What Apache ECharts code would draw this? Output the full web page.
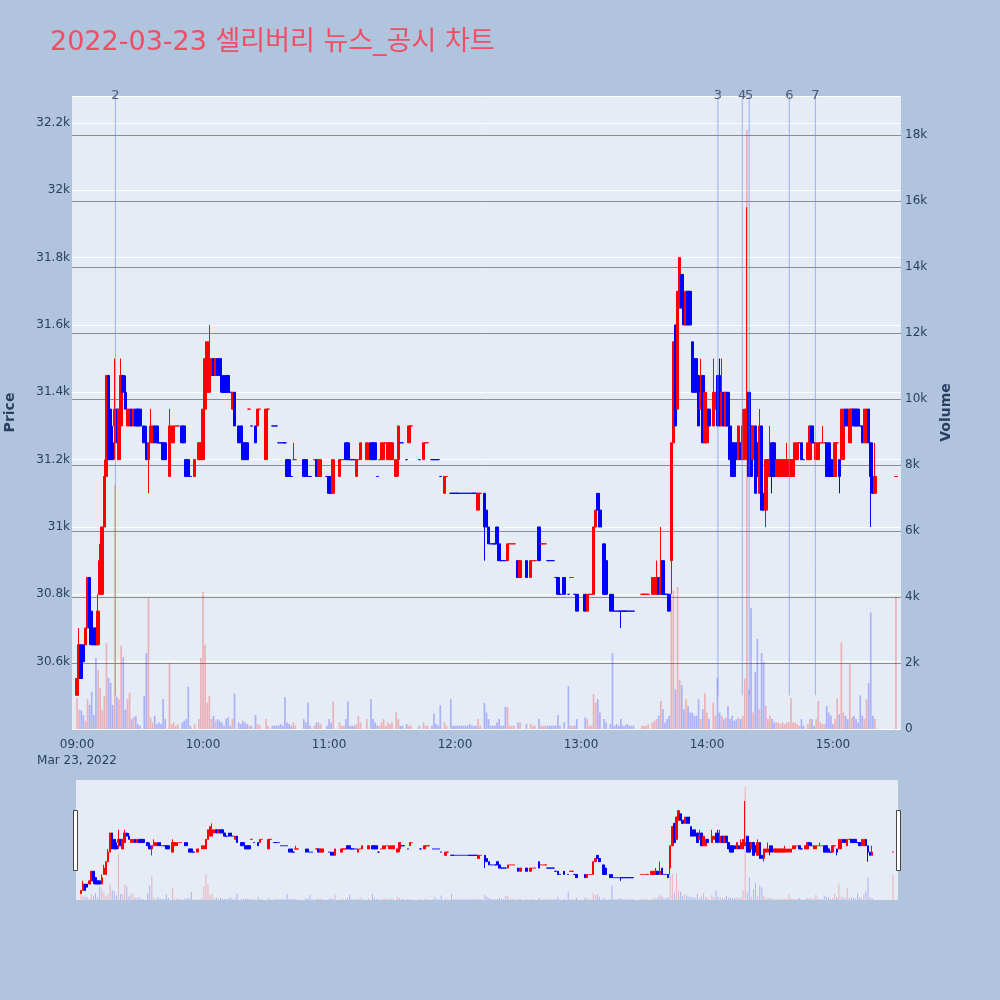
<!DOCTYPE html>
<html>
<head>
<meta charset="utf-8">
<script src="https://cdn.jsdelivr.net/npm/echarts@6/dist/echarts.min.js"></script>
<style>html,body{margin:0;padding:0;background:#b0c4de;}#c{width:1000px;height:1000px;}</style>
</head>
<body>
<div id="c"></div>
<script>
// rows: [minute from 09:00, open, close, low, high, volume]
const h09 = [
[0,30500,30550,30500,30550,940],[1,30550,30650,30550,30700,580],[2,30650,30550,30550,30650,570],
[3,30650,30600,30600,30650,420],[4,30650,30700,30650,30700,250],[5,30700,30850,30700,30850,900],
[6,30850,30700,30650,30850,730],[7,30750,30650,30650,30750,1130],[8,30700,30650,30650,30700,420],
[9,30700,30650,30650,30700,2150],[10,30650,30750,30650,30800,1790],[11,30800,30900,30800,30950,1240],
[12,30800,31000,30800,31000,580],[13,31000,31150,31000,31200,1000],[14,31150,31450,31150,31450,2600],
[15,31450,31200,31200,31450,1550],[16,31350,31200,31200,31350,1400],[17,31250,31200,31200,31300,730],
[18,31300,31350,31200,31500,7400],[19,31350,31250,31250,31350,980],[20,31200,31350,31200,31350,900],
[21,31300,31450,31300,31500,2520],[22,31450,31400,31400,31450,2180],[23,31400,31350,31350,31450,580],
[24,31300,31350,31300,31350,900],[25,31300,31350,31300,31350,1100],[26,31350,31300,31300,31350,300],
[27,31300,31350,31300,31350,350],[28,31350,31300,31300,31350,400],[29,31350,31300,31300,31350,150],
[30,31350,31300,31300,31350,100],[32,31300,31250,31250,31300,1000],[33,31250,31200,31200,31300,2300],
[34,31200,31250,31100,31250,3960],[35,31250,31300,31250,31350,350],[36,31250,31300,31250,31300,200],
[37,31300,31250,31250,31300,400],[38,31300,31250,31250,31300,150],[39,31250,31250,31250,31250,200],
[40,31250,31250,31250,31250,150],[41,31250,31200,31200,31250,900],[42,31250,31200,31200,31250,300],
[44,31150,31300,31150,31350,2000],[45,31250,31300,31250,31300,150],[46,31250,31300,31250,31300,200],
[47,31300,31300,31300,31300,100],[48,31300,31300,31300,31300,150],[50,31300,31250,31250,31300,200],
[51,31300,31250,31250,31300,250],[52,31200,31150,31150,31200,300],[53,31200,31150,31150,31200,1280],
[54,31150,31150,31150,31150,100],[56,31150,31200,31150,31200,150],[58,31200,31250,31200,31250,300],
[59,31200,31250,31200,31250,2150]
];
const h10 = [
[60,31200,31350,31200,31350,4160],[61,31350,31500,31350,31500,2550],[62,31400,31550,31400,31550,800],
[63,31400,31500,31400,31600,1000],[64,31450,31500,31450,31500,300],[65,31500,31450,31450,31500,400],
[66,31450,31500,31450,31500,250],[67,31500,31450,31450,31500,300],[68,31500,31450,31450,31500,250],
[69,31450,31400,31400,31450,200],[70,31400,31400,31400,31400,100],[71,31450,31400,31400,31450,300],
[72,31450,31400,31400,31450,350],[73,31400,31400,31400,31400,100],[74,31350,31400,31350,31400,300],
[75,31400,31300,31300,31400,1070],[77,31300,31250,31250,31300,200],[78,31300,31250,31250,31300,150],
[79,31250,31200,31200,31250,250],[80,31250,31200,31200,31250,200],[81,31250,31200,31200,31250,150],
[82,31350,31350,31350,31350,100],[83,31300,31300,31300,31300,100],[85,31300,31250,31250,31300,420],
[86,31300,31350,31300,31350,150],[87,31350,31350,31350,31350,100],[90,31200,31350,31200,31350,300],
[91,31350,31350,31350,31350,100],[93,31300,31300,31300,31300,100],[94,31300,31300,31300,31300,100],
[95,31300,31300,31300,31300,100],[96,31250,31250,31250,31250,100],[97,31250,31250,31250,31250,150],
[98,31250,31250,31250,31250,100],[99,31250,31250,31250,31250,960],[100,31200,31150,31150,31200,200],
[101,31200,31150,31150,31200,150],[102,31150,31150,31150,31150,100],[103,31200,31200,31200,31250,200],
[104,31200,31200,31200,31200,100],[108,31200,31150,31150,31200,300],[109,31200,31150,31150,31200,200],
[110,31150,31150,31150,31150,800],[111,31150,31150,31150,31150,100],[113,31200,31200,31200,31200,100],
[114,31200,31150,31150,31200,200],[115,31150,31200,31150,31200,200],[116,31150,31200,31150,31200,150],
[119,31150,31150,31150,31150,100]
];
const h11 = [
[120,31150,31100,31100,31150,300],[121,31150,31100,31100,31150,200],[122,31100,31200,31100,31200,830],
[125,31150,31200,31150,31200,200],[126,31200,31200,31200,31200,100],[127,31200,31200,31200,31200,100],
[128,31250,31200,31200,31250,300],[129,31250,31200,31200,31250,830],[130,31200,31200,31200,31200,100],
[131,31200,31200,31200,31200,100],[132,31200,31200,31200,31200,100],[133,31150,31200,31150,31200,150],
[134,31200,31200,31200,31200,400],[135,31200,31250,31200,31250,200],[138,31200,31250,31200,31250,300],
[140,31250,31200,31200,31250,900],[141,31250,31200,31200,31250,300],[142,31250,31200,31200,31250,200],
[143,31150,31150,31150,31150,100],[144,31200,31200,31200,31200,100],[145,31200,31250,31200,31250,200],
[146,31200,31250,31200,31250,300],[147,31250,31250,31250,31250,100],[148,31200,31250,31200,31250,200],
[149,31200,31250,31200,31250,150],[150,31200,31250,31200,31250,200],[152,31150,31200,31150,31200,510],
[153,31200,31300,31150,31300,300],[154,31250,31250,31250,31250,100],[155,31250,31250,31250,31250,100],
[157,31200,31200,31200,31200,150],[158,31250,31300,31250,31300,100],[159,31300,31300,31300,31300,100],
[163,31200,31200,31200,31200,100],[165,31200,31250,31200,31250,200],[166,31250,31250,31250,31250,100],
[167,31250,31250,31250,31250,100],[169,31200,31200,31200,31200,100],[170,31200,31200,31200,31200,470],
[171,31200,31200,31200,31200,150],[172,31200,31200,31200,31200,100],[173,31150,31150,31150,31150,720],
[175,31100,31150,31100,31150,200],[176,31150,31150,31150,31150,100],[178,31100,31100,31100,31100,900],
[179,31100,31100,31100,31100,100]
];
const h12 = [
[180,31100,31100,31100,31100,100],[181,31100,31100,31100,31100,100],[182,31100,31100,31100,31100,100],
[183,31100,31100,31100,31100,100],[184,31100,31100,31100,31100,100],[185,31100,31100,31100,31100,100],
[186,31100,31100,31100,31100,100],[187,31100,31100,31100,31100,150],[188,31100,31100,31100,31100,100],
[189,31100,31100,31100,31100,100],[190,31100,31100,31100,31100,100],[191,31050,31100,31050,31100,300],
[192,31100,31100,31100,31100,100],[194,31100,31000,30900,31100,790],[195,31050,31000,31000,31050,500],
[196,31000,30950,30950,31000,300],[197,30950,30950,30950,30950,100],[198,30950,30950,30950,30950,100],
[199,30950,30950,30950,30950,100],[200,31000,30950,30950,31000,200],[201,30950,30900,30900,30950,300],
[202,30900,30900,30900,30900,100],[203,30900,30900,30900,30900,100],[204,30900,30900,30900,30900,670],
[205,30900,30950,30900,30950,670],[206,30950,30950,30950,30950,100],[207,30950,30950,30950,30950,100],
[208,30950,30950,30950,30950,100],[210,30900,30850,30850,30900,200],[211,30850,30900,30850,30900,200],
[214,30900,30850,30850,30900,150],[216,30850,30900,30850,30900,150],[217,30900,30900,30900,30900,100],
[218,30900,30900,30900,30900,100],[220,31000,30900,30900,31000,300],[221,30950,30950,30950,30950,100],
[222,30950,30950,30950,30950,100],[223,30950,30950,30950,30950,100],[224,30900,30900,30900,30900,100],
[225,30900,30900,30900,30900,100],[226,30900,30900,30900,30900,100],[227,30900,30900,30900,30900,100],
[228,30850,30850,30850,30850,100],[229,30850,30800,30800,30850,420],[230,30800,30800,30800,30800,100],
[232,30850,30800,30800,30850,200],[234,30800,30800,30800,30800,1300],[235,30850,30850,30850,30850,100],
[236,30850,30850,30850,30850,100],[237,30800,30800,30800,30800,100],[238,30800,30750,30750,30800,300]
];
const h13 = [
[242,30800,30750,30750,30800,350],[243,30750,30800,30750,30800,300],[244,30800,30800,30800,30800,100],
[245,30800,30800,30800,30800,100],[246,30800,31000,30800,31000,1060],[247,31000,31050,31000,31050,800],
[248,31100,31050,31050,31100,900],[249,31050,31000,31000,31050,500],[251,30950,30800,30800,30950,300],
[252,30900,30800,30800,30900,200],[254,30800,30750,30750,30800,150],[255,30800,30750,30750,30800,2300],
[256,30750,30750,30750,30750,100],[257,30750,30750,30750,30750,150],[258,30750,30750,30750,30750,100],
[259,30750,30750,30700,30750,300],[260,30750,30750,30750,30750,100],[261,30750,30750,30750,30750,100],
[262,30750,30750,30750,30750,150],[263,30750,30750,30750,30750,100],[264,30750,30750,30750,30750,100],
[265,30750,30750,30750,30750,100],[269,30800,30800,30800,30800,100],[270,30800,30800,30800,30800,100],
[271,30800,30800,30800,30800,100],[272,30800,30800,30800,30800,150],[274,30800,30850,30800,30850,200],
[275,30800,30850,30800,30850,250],[276,30800,30850,30800,30900,300],[277,30850,30800,30800,30850,400],
[278,30800,30850,30800,31000,850],[279,30900,30800,30800,30900,600],[280,30800,30800,30800,30800,200],
[281,30800,30800,30800,30800,300],[282,30800,30750,30750,30800,400],[283,30900,31250,30800,31250,3900],
[284,31250,31550,31250,31550,4200],[285,31600,31300,31300,31600,1200],[286,31350,31700,31350,31700,4300],
[287,31650,31800,31650,31800,1500],[288,31750,31650,31650,31750,1330],[289,31650,31600,31600,31650,600],
[290,31600,31700,31600,31700,900],[291,31700,31600,31600,31700,700],[292,31700,31600,31600,31700,500],
[293,31550,31400,31400,31550,500],[294,31500,31400,31400,31500,400],[295,31500,31400,31400,31500,400],
[296,31450,31300,31300,31450,900],[297,31350,31400,31350,31500,300],[298,31450,31250,31250,31450,600],
[299,31250,31400,31250,31400,1080]
];
const h14 = [
[300,31250,31350,31250,31350,500],[301,31350,31300,31300,31350,300],[303,31300,31400,31300,31500,800],
[304,31350,31400,31350,31400,400],[305,31450,31300,31300,31450,1550],[306,31450,31300,31300,31500,500],
[307,31300,31400,31300,31500,400],[308,31400,31300,31300,31400,300],[309,31300,31400,31300,31400,350],
[310,31400,31300,31300,31400,700],[311,31300,31200,31200,31300,300],[312,31250,31150,31150,31250,400],
[313,31250,31150,31150,31250,250],[314,31250,31200,31200,31250,300],[315,31200,31300,31200,31300,350],
[316,31250,31200,31200,31250,300],[317,31200,31300,31200,31350,400],[318,31200,31350,31200,31350,1520],
[319,31250,31300,31250,31950,18150],[320,31400,31150,31150,31400,1200],[321,31300,31150,31150,31300,3660],
[322,31200,31300,31200,31300,500],[323,31300,31100,31100,31300,1730],[324,31250,31150,31150,31250,2730],
[325,31100,31300,31100,31350,600],[326,31300,31050,31050,31300,2300],[327,31100,31050,31050,31100,2030],
[328,31050,31200,31000,31200,700],[329,31150,31200,31150,31200,300],[330,31150,31200,31150,31300,400],
[331,31250,31150,31100,31250,300],[332,31250,31150,31150,31250,200],[333,31150,31200,31150,31200,200],
[334,31150,31200,31150,31200,200],[335,31150,31200,31150,31200,150],[336,31150,31200,31150,31200,200],
[337,31150,31200,31150,31200,150],[338,31150,31200,31150,31250,200],[339,31150,31200,31150,31200,200],
[340,31150,31200,31150,31200,940],[341,31150,31200,31150,31200,200],[342,31200,31250,31200,31250,200],
[343,31200,31250,31200,31250,150],[344,31250,31250,31250,31250,100],[345,31250,31200,31200,31250,300],
[346,31200,31200,31200,31200,100],[348,31200,31250,31200,31250,150],[349,31200,31300,31200,31300,300],
[350,31300,31250,31250,31300,300],[351,31250,31250,31250,31300,100],[352,31200,31250,31200,31250,300],
[353,31200,31250,31200,31250,850],[354,31250,31250,31250,31250,200],[355,31250,31250,31250,31300,150],
[356,31250,31250,31250,31250,150],[357,31250,31150,31150,31250,700],[358,31250,31150,31150,31250,500],
[359,31200,31150,31150,31200,400]
];
const h15 = [
[360,31150,31150,31150,31150,150],[361,31150,31250,31150,31250,300],[362,31250,31250,31250,31250,920],
[363,31200,31150,31100,31200,450],[364,31200,31350,31200,31350,2620],[365,31200,31350,31200,31350,500],
[366,31350,31300,31300,31350,400],[367,31350,31300,31300,31350,300],[368,31250,31350,31250,31350,1970],
[369,31350,31350,31350,31350,350],[370,31350,31300,31300,31350,400],[371,31350,31300,31300,31350,300],
[372,31350,31300,31300,31350,200],[373,31300,31300,31300,31300,1020],[374,31300,31250,31250,31300,400],
[375,31250,31350,31250,31350,300],[376,31250,31350,31250,31350,900],[377,31350,31250,31250,31350,1390],
[378,31250,31150,31000,31250,3530],[379,31150,31100,31100,31150,400],[380,31100,31150,31100,31250,300],
[390,31150,31150,31150,31150,4010]
];
// news markers (minute from 09:00) and their labels
const newsTimes = [18.3, 305.2, 316.8, 320.1, 339.2, 351.6];
const newsLabels = ['2', '3', '4', '5', '6', '7'];
// axis tick positions (minutes from 09:00)
const timeTicks = [0, 60, 120, 180, 240, 300, 360];
const dateLabel = 'Mar 23, 2022';
const titleText = '2022-03-23 셀리버리 뉴스_공시 차트';

const X_MIN = -2.4, X_MAX = 392.4;
const P_MIN = 30400, P_MAX = 32280;
const V_MAX = 19180;

const rows = [].concat(h09, h10, h11, h12, h13, h14, h15);
const candleData = [], volData = [];
let prevC = null, prevUp = true;
rows.forEach(r => {
  const m = r[0], o = r[1], c = r[2], l = r[3], h = r[4], v = r[5];
  let up;
  if (c > o) up = true;
  else if (c < o) up = false;
  else if (prevC !== null && c > prevC) up = true;
  else if (prevC !== null && c < prevC) up = false;
  else up = prevUp;
  prevC = c; prevUp = up;
  const col = up ? '#ff0000' : '#0000ff';
  candleData.push({ value: [m, o, c, l, h], itemStyle: { color: col, color0: col, borderColor: col, borderColor0: col } });
  volData.push({ value: [m, v], itemStyle: { color: up ? 'rgba(255,0,0,0.25)' : 'rgba(0,0,255,0.25)' } });
});

const FONT = 'DejaVu Sans';
const TXT = '#2a3f5f';
function fmtTime(v) {
  const h = 9 + Math.floor(v / 60), mm = v % 60;
  const s = (h < 10 ? '0' : '') + h + ':' + (mm < 10 ? '0' : '') + mm;
  return v === 0 ? s + '\n' + dateLabel : s;
}
const GREY = '#8c8c8c';

const series = [
  {
    type: 'candlestick', xAxisIndex: 0, yAxisIndex: 0, data: candleData,
    encode: { x: 0, y: [1, 2, 3, 4] }, barWidth: 3, z: 2,
    itemStyle: { borderWidth: 1 }
  },
  {
    type: 'bar', xAxisIndex: 0, yAxisIndex: 1, data: volData, barWidth: 1.7, z: 3
  },
  {
    type: 'candlestick', xAxisIndex: 1, yAxisIndex: 2, data: candleData,
    encode: { x: 0, y: [1, 2, 3, 4] }, barWidth: 2, z: 2,
    itemStyle: { borderWidth: 1 }
  },
  {
    type: 'bar', xAxisIndex: 1, yAxisIndex: 3, data: volData, barWidth: 1, z: 3
  }
];
newsTimes.forEach(t => {
  series.push({
    type: 'line', xAxisIndex: 0, yAxisIndex: 0, data: [[t, 30500], [t, P_MAX]],
    symbol: 'none', lineStyle: { color: 'rgba(100,140,240,0.6)', width: 1 }, z: 4, silent: true
  });
});
series.push({
  type: 'scatter', xAxisIndex: 0, yAxisIndex: 0, symbolSize: 1, z: 5,
  itemStyle: { color: 'rgba(0,0,0,0)' },
  data: newsTimes.map((t, i) => ({ value: [t, P_MAX], name: newsLabels[i] })),
  label: { show: true, position: 'inside', formatter: '{b}', color: TXT, fontSize: 13, fontFamily: FONT }
});

const option = {
  animation: false,
  backgroundColor: '#b0c4de',
  title: {
    text: titleText, left: 45, top: 24,
    textStyle: { fontSize: 27, color: '#ee4f65', fontWeight: 'normal', fontFamily: FONT + ', Noto Sans CJK KR' }
  },
  grid: [
    { left: 72, top: 96, width: 829, height: 633, show: true, backgroundColor: '#e5ecf6', borderWidth: 0, containLabel: false, outerBoundsMode: 'none' },
    { left: 76, top: 780, width: 822, height: 120, show: true, backgroundColor: '#e5ecf6', borderWidth: 0, containLabel: false, outerBoundsMode: 'none' }
  ],
  xAxis: [
    {
      type: 'value', gridIndex: 0, min: X_MIN, max: X_MAX,
      axisLine: { show: false }, axisTick: { show: false }, splitLine: { show: false },
      axisLabel: { customValues: timeTicks, formatter: fmtTime, color: TXT, fontSize: 12, fontFamily: FONT, margin: 8, lineHeight: 16 }
    },
    { type: 'value', gridIndex: 1, min: X_MIN, max: X_MAX, show: false, splitLine: { show: false } }
  ],
  yAxis: [
    {
      type: 'value', gridIndex: 0, position: 'left', min: P_MIN, max: P_MAX, interval: 200,
      axisLine: { show: false }, axisTick: { show: false },
      splitLine: { show: true, lineStyle: { color: '#ffffff', width: 1 } },
      axisLabel: {
        color: TXT, fontSize: 12, fontFamily: FONT, margin: 2, showMaxLabel: false,
        formatter: v => (v === P_MIN || v === P_MAX) ? '' : (Math.round(v / 100) / 10) + 'k'
      },
      name: 'Price', nameLocation: 'middle', nameGap: 55, nameRotate: 90, nameMoveOverlap: false,
      nameTextStyle: { color: TXT, fontSize: 14, fontWeight: 'bold', fontFamily: FONT }
    },
    {
      type: 'value', gridIndex: 0, position: 'right', min: 0, max: V_MAX, interval: 2000,
      axisLine: { show: false }, axisTick: { show: false },
      splitLine: { show: true, lineStyle: { color: ['#ffffff', GREY, GREY, GREY, GREY, GREY, GREY, GREY, GREY, GREY, 'rgba(0,0,0,0)'], width: 1 } },
      axisLabel: {
        color: TXT, fontSize: 12, fontFamily: FONT, margin: 4, showMaxLabel: false,
        formatter: v => v === V_MAX ? '' : (v === 0 ? '0' : (v / 1000) + 'k')
      },
      name: 'Volume', nameLocation: 'middle', nameGap: 38, nameRotate: 90, nameMoveOverlap: false,
      nameTextStyle: { color: TXT, fontSize: 14, fontWeight: 'bold', fontFamily: FONT }
    },
    { type: 'value', gridIndex: 1, min: P_MIN, max: P_MAX, show: false, splitLine: { show: false } },
    { type: 'value', gridIndex: 1, min: 0, max: V_MAX, show: false, splitLine: { show: false } }
  ],
  graphic: [
    { type: 'rect', left: 73, top: 810, shape: { width: 4, height: 60 }, style: { fill: '#ffffff', stroke: '#444444', lineWidth: 1 } },
    { type: 'rect', left: 896, top: 810, shape: { width: 4, height: 60 }, style: { fill: '#ffffff', stroke: '#444444', lineWidth: 1 } }
  ],
  series: series
};
const chart = echarts.init(document.getElementById('c'));
chart.setOption(option);
</script>
</body>
</html>
